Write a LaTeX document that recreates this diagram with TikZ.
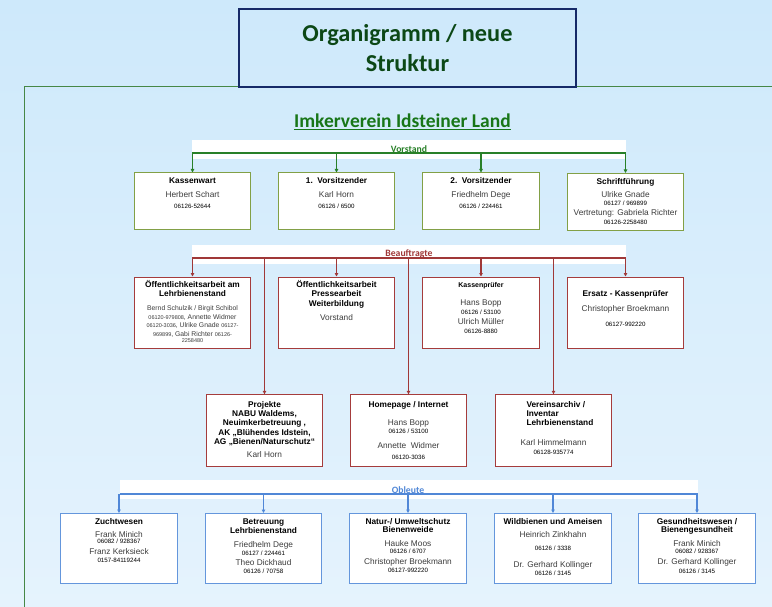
\documentclass[tikz,border=0pt]{standalone}
\usepackage{fontspec}
\setmainfont{Liberation Sans}
\newfontfamily\calfont{Carlito}
\usetikzlibrary{arrows.meta}

\definecolor{bgtop}{RGB}{206,233,251}
\definecolor{bgbot}{RGB}{229,243,253}
\definecolor{navy}{RGB}{22,42,104}
\definecolor{titlegreen}{RGB}{12,72,22}
\definecolor{clubgreen}{RGB}{24,118,24}
\definecolor{framegreen}{RGB}{70,135,70}
\definecolor{vgreen}{RGB}{40,128,40}
\definecolor{vbox}{RGB}{130,160,70}
\definecolor{bred}{RGB}{160,56,56}
\definecolor{bbox}{RGB}{165,60,60}
\definecolor{oblue}{RGB}{80,135,215}
\definecolor{obox}{RGB}{100,150,220}
\definecolor{namegray}{RGB}{60,60,60}

% lines inside the boxes
\newcommand{\boxhead}[2][9.3]{{\fontsize{8.3}{#1}\selectfont\bfseries\vrule width 0pt height 7pt depth 0pt #2\par}}
\newcommand{\boxname}[2][14]{{\fontsize{8.3}{#1}\selectfont\leavevmode\color{namegray}#2\par}}
\newcommand{\boxtel}[2][9]{{\fontsize{6.2}{#1}\selectfont\leavevmode#2\par}}
\newcommand{\boxmix}[2][8.5]{{\fontsize{6.8}{#1}\selectfont\leavevmode\color{namegray}#2\par}}
\newcommand{\tinytel}[1]{{\fontsize{5.5}{6}\selectfont #1}}

\begin{document}
\begin{tikzpicture}[x=1pt,y=-1pt,
  box/.style 2 args={draw, fill=white, line width=0.9pt, inner sep=0pt, anchor=north,
    execute at begin node={\begin{minipage}[c][#1][t]{116.5pt}\centering\vspace*{#2}},
    execute at end node={\end{minipage}}},
  bandlabel/.style={font=\calfont\bfseries\fontsize{9.7}{10}\selectfont, inner sep=0pt, anchor=base},
  arr/.style={-{Triangle[length=3.5pt,width=3.5pt]}},
  vline/.style={draw=vgreen, line width=1.1pt},
  bline/.style={draw=bred, line width=1.1pt},
  oline/.style={draw=oblue, line width=1.1pt}]
\useasboundingbox (0,0) rectangle (772,607);
\shade[top color=bgtop, bottom color=bgbot] (0,0) rectangle (772,607);

% frame and headings
\draw[framegreen, line width=0.9pt] (772,86) -- (24,86) -- (24,607);
\node[draw=navy, line width=1.8pt, minimum width=337pt, minimum height=78pt, align=center,
  text=titlegreen, font=\calfont\bfseries\fontsize{24.3}{30}\selectfont] (title) at (407.5,48)
  {Organigramm / neue\\Struktur};
\node[inner sep=0pt, anchor=base, text=clubgreen, font=\calfont\bfseries\fontsize{19.5}{22}\selectfont]
  (club) at (402.5,127.5) {Imkerverein Idsteiner Land};
\draw[clubgreen, line width=1.3pt] ([yshift=-2pt]club.base west) -- ([yshift=-2pt]club.base east);

% Vorstand
\fill[white] (192,140) rectangle (626,159);
\node[bandlabel, text=vgreen] (vlabel) at (409,152.5) {Vorstand};
\coordinate (vl) at (192,153);
\coordinate (vr) at (626,153);
\node[box={57pt}{4pt}, draw=vbox] (kasse) at (192.5,172.5)
  {\boxhead{Kassenwart}\boxname[14]{Herbert Schart}\boxtel[11]{06126-52644}};
\node[box={57pt}{4pt}, draw=vbox] (vors1) at (336.5,172.5)
  {\boxhead{1.\ \ Vorsitzender}\boxname[14]{Karl Horn}\boxtel[11]{06126 / 6500}};
\node[box={57pt}{4pt}, draw=vbox] (vors2) at (481,172.5)
  {\boxhead{2.\ \ Vorsitzender}\boxname[14]{Friedhelm Dege}\boxtel[11]{06126 / 224461}};
\node[box={57pt}{4pt}, draw=vbox] (schrift) at (625.5,173)
  {\boxhead{Schriftführung}\boxname[13]{Ulrike Gnade}\boxtel[7.6]{06127 / 969899}%
   \boxname[10.4]{Vertretung: Gabriela Richter}\boxtel[8.6]{06126-2258480}};
\draw[vline] (vl) -- (vr);
\foreach \b in {kasse,vors1,vors2,schrift}
  \draw[vline,arr] (vl -| \b.north) -- (\b.north);

% Beauftragte
\fill[white] (192,245) rectangle (626,264);
\node[bandlabel, text=bred] (blabel) at (409,257) {Beauftragte};
\coordinate (bl) at (192,258);
\coordinate (br) at (626,258);
\node[box={71pt}{3.5pt}, draw=bbox] (oeff1) at (192.5,276.5)
  {\boxhead{Öffentlichkeitsarbeit am}\boxhead[9.3]{Lehrbienenstand}%
   \boxmix[13.9]{Bernd Schulzik / Birgit Schibol}%
   \boxmix[8.3]{\tinytel{06120-979808}, Annette Widmer}%
   \boxmix[8.7]{\tinytel{06120-3036}, Ulrike Gnade \tinytel{06127-}}%
   \boxmix[8.6]{\tinytel{969899}, Gabi Richter \tinytel{06126-}}%
   \boxmix[6.2]{\tinytel{2258480}}};
\node[box={71pt}{3.5pt}, draw=bbox] (oeff2) at (336.5,276.5)
  {\boxhead{Öffentlichkeitsarbeit}\boxhead[9.4]{Pressearbeit}\boxhead[9.4]{Weiterbildung}%
   \boxname[14.6]{Vorstand}};
\node[box={71pt}{4pt}, draw=bbox] (pruef) at (481,276.5)
  {\boxhead{\fontsize{7}{7}\selectfont Kassenprüfer}\boxname[17.7]{Hans Bopp}\boxtel[8.8]{06126 / 53100}%
   \boxname[10.2]{Ulrich Müller}\boxtel[9.2]{06126-8880}};
\node[box={71pt}{13pt}, draw=bbox] (ersatz) at (625.5,276.5)
  {\boxhead{Ersatz - Kassenprüfer}\boxname[14.3]{Christopher Broekmann}\boxtel[15.6]{06127-992220}};
\node[box={72pt}{5.3pt}, draw=bbox] (projekte) at (264.5,394.3)
  {\boxhead{Projekte}\boxhead[9.33]{NABU Waldems,}\boxhead[9.33]{Neuimkerbetreuung ,}%
   \boxhead[9.33]{AK „Blühendes Idstein,}\boxhead[9.33]{AG „Bienen/Naturschutz“}%
   \boxname[13.3]{Karl Horn}};
\node[box={72pt}{5.3pt}, draw=bbox] (homepage) at (408.5,394.3)
  {\boxhead{Homepage / Internet}\boxname[18.7]{Hans Bopp}\boxtel[7.9]{06126 / 53100}%
   \boxname[15.1]{Annette\ \ Widmer}\boxtel[10.9]{06120-3036}};
\node[box={72pt}{5.3pt}, draw=bbox] (archiv) at (553.5,394.3)
  {\boxhead{\makebox[54pt][l]{Vereinsarchiv /}}\boxhead[9.33]{\makebox[54pt][l]{Inventar}}%
   \boxhead[9.33]{\makebox[54pt][l]{Lehrbienenstand}}%
   \boxname[20]{Karl Himmelmann}\boxtel[8.9]{06128-935774}};
\draw[bline] (bl) -- (br);
\foreach \b in {oeff1,oeff2,pruef,ersatz,projekte,homepage,archiv}
  \draw[bline,arr] (bl -| \b.north) -- (\b.north);

% Obleute
\fill[white] (120,480) rectangle (698,499);
\node[bandlabel, text=oblue] (olabel) at (408,493) {Obleute};
\coordinate (ol) at (120,494);
\coordinate (or) at (698,494);
\node[box={70pt}{3.7pt}, draw=obox] (zucht) at (119,513)
  {\boxhead{Zuchtwesen}\boxname[13.3]{Frank Minich}\boxtel[6.5]{06082 / 928367}%
   \boxname[10.5]{Franz Kerksieck}\boxtel[8.2]{0157-84119244}};
\node[box={70pt}{3.7pt}, draw=obox] (betreu) at (263.5,513)
  {\boxhead{Betreuung}\boxhead[8.6]{Lehrbienenstand}\boxname[13.7]{Friedhelm Dege}%
   \boxtel[7.9]{06127 / 224461}\boxname[10.1]{Theo Dickhaud}\boxtel[8.2]{06126 / 70758}};
\node[box={70pt}{3.7pt}, draw=obox] (natur) at (408,513)
  {\boxhead{Natur-/ Umweltschutz}\boxhead[8.6]{Bienenweide}\boxname[13.7]{Hauke Moos}%
   \boxtel[7.2]{06126 / 6707}\boxname[10.8]{Christopher Broekmann}\boxtel[8.2]{06127-992220}};
\node[box={70pt}{3.7pt}, draw=obox] (wild) at (553,513)
  {\boxhead{Wildbienen und Ameisen}\boxname[13.3]{Heinrich Zinkhahn}\boxtel[12.9]{06126 / 3338}%
   \boxname[17.1]{Dr. Gerhard Kollinger}\boxtel[8.5]{06126 / 3145}};
\node[box={70pt}{3.7pt}, draw=obox] (gesund) at (697,513)
  {\boxhead{Gesundheitswesen /}\boxhead[8.6]{Bienengesundheit}\boxname[13.7]{Frank Minich}%
   \boxtel[7.2]{06082 / 928367}\boxname[10.8]{Dr. Gerhard Kollinger}\boxtel[8.9]{06126 / 3145}};
\draw[oline] (ol) -- (or);
\foreach \b in {zucht,betreu,natur,wild,gesund}
  \draw[oline,arr] (ol -| \b.north) -- (\b.north);
\end{tikzpicture}
\end{document}
